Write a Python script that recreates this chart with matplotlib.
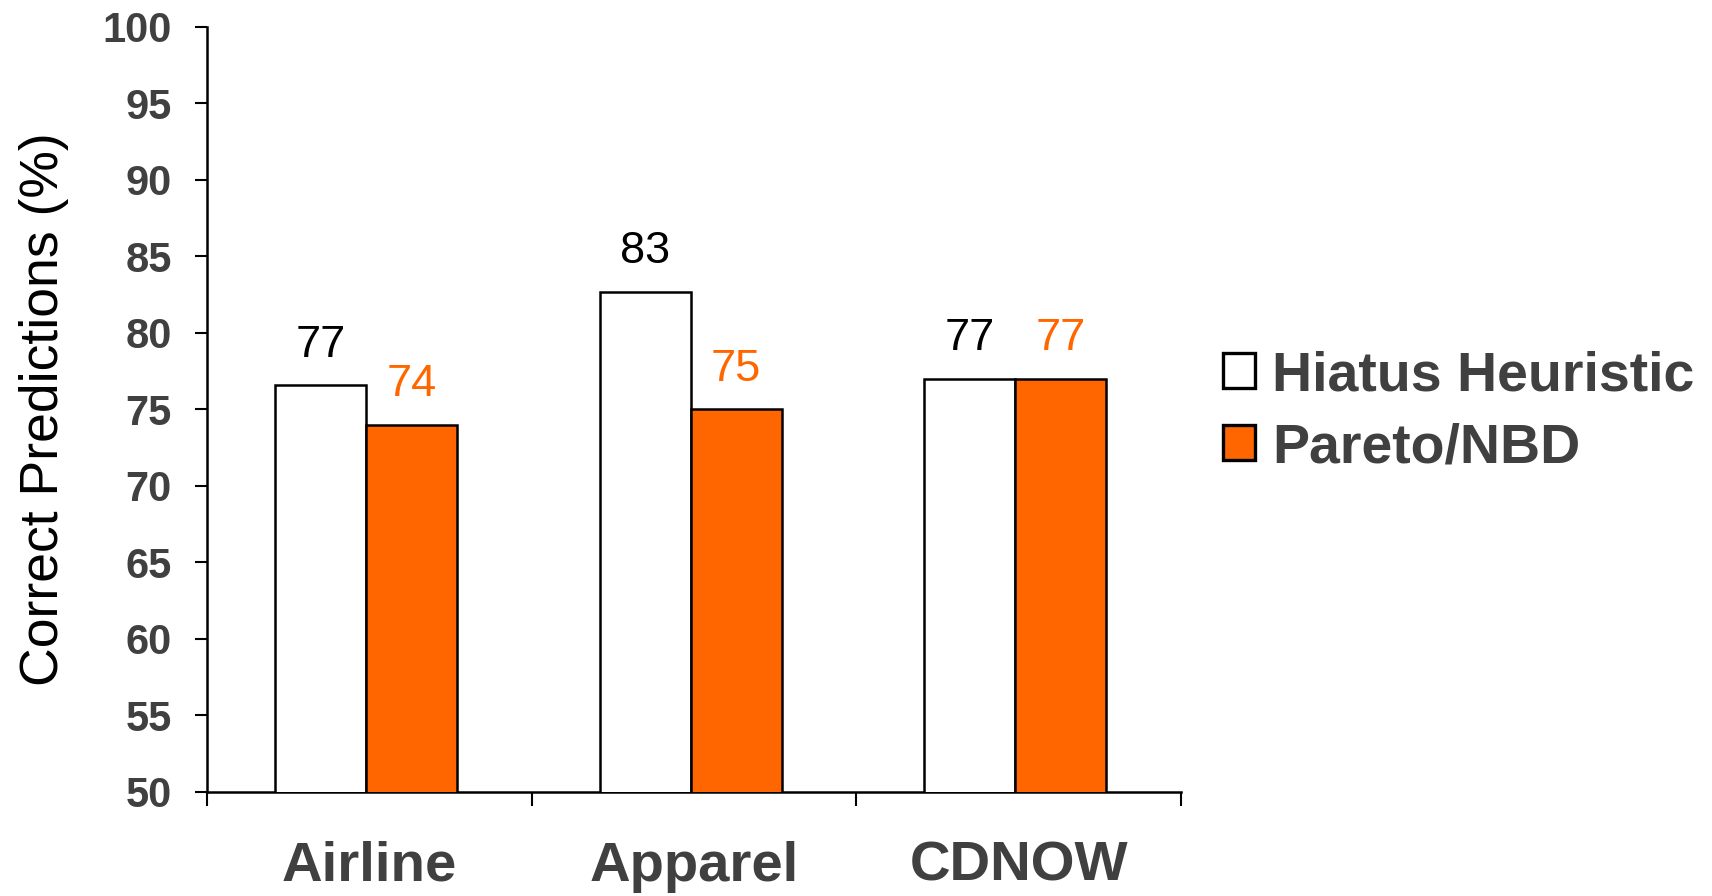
import matplotlib
matplotlib.use("Agg")
import matplotlib.pyplot as plt
from matplotlib.patches import Patch
import numpy as np

plt.rcParams['font.family'] = ['Liberation Sans', 'DejaVu Sans']

categories = ["Airline", "Apparel", "CDNOW"]
hiatus = [76.6, 82.7, 77.0]
pareto = [74.0, 75.0, 77.0]
series_names = ["Hiatus Heuristic", "Pareto/NBD"]
yticks = [50, 55, 60, 65, 70, 75, 80, 85, 90, 95, 100]

ORANGE = "#FF6600"
GREY = "#404040"

fig = plt.figure(figsize=(17.12, 8.96), dpi=100)
ax = fig.add_axes([0.1209, 0.1161, 0.5689, 0.8538])

x = np.arange(len(categories))
w = 0.28
shift = -0.01  # groups sit slightly left of the category centre
ax.bar(x + shift - w / 2, hiatus, w, color="white", edgecolor="black", linewidth=1.8, zorder=3)
ax.bar(x + shift + w / 2, pareto, w, color=ORANGE, edgecolor="black", linewidth=1.8, zorder=3)

for xi, v in zip(x + shift - w / 2, hiatus):
    ax.annotate(f"{v:.0f}", (xi, v), xytext=(0, 14), textcoords="offset points",
                ha="center", va="bottom", fontsize=32.5, color="black")
for xi, v in zip(x + shift + w / 2, pareto):
    ax.annotate(f"{v:.0f}", (xi, v), xytext=(0, 14), textcoords="offset points",
                ha="center", va="bottom", fontsize=32.5, color=ORANGE)

ax.set_ylim(50, 100)
ax.set_xlim(-0.5, 2.5)
ax.set_yticks(yticks)
ax.set_yticklabels([str(t) for t in yticks], fontsize=30, fontweight="bold", color=GREY)
ax.tick_params(axis="y", direction="out", length=8.5, width=1.5, pad=17)

ax.set_xticks([-0.5, 0.5, 1.5, 2.5])
ax.set_xticklabels([])
ax.tick_params(axis="x", which="major", direction="out", length=10, width=1.5)
ax.set_xticks(x, minor=True)
ax.set_xticklabels(categories, minor=True, fontsize=40.5, fontweight="bold", color=GREY)
ax.tick_params(axis="x", which="minor", length=0, pad=35)

for s in ["top", "right"]:
    ax.spines[s].set_visible(False)
for s in ["left", "bottom"]:
    ax.spines[s].set_linewidth(1.8)

ax.set_ylabel("Correct Predictions (%)", fontsize=38.5, color="black", labelpad=24)

handles = [Patch(facecolor="white", edgecolor="black", linewidth=2.4),
           Patch(facecolor=ORANGE, edgecolor="black", linewidth=2.4)]
leg = fig.legend(handles, series_names, loc="center left",
                 bbox_to_anchor=(0.7145, 0.540), frameon=False,
                 prop={"size": 40, "weight": "bold"},
                 handlelength=0.58, handleheight=0.58, handletextpad=0.3,
                 labelspacing=0.36, borderpad=0, borderaxespad=0)
for t in leg.get_texts():
    t.set_color(GREY)

fig.savefig("out.png", dpi=100)
